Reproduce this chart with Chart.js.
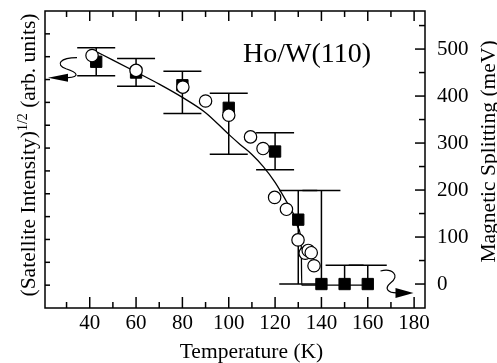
<!DOCTYPE html>
<html>
<head>
<meta charset="utf-8">
<script src="https://cdn.jsdelivr.net/npm/chart.js@4.4.0/dist/chart.umd.min.js"></script>
<style>
  html, body { margin: 0; padding: 0; background: #fff; }
  canvas { display: block; }
</style>
</head>
<body>
<canvas id="chart" width="497" height="363"></canvas>
<script>
  // magnetic splitting (filled squares, right axis)
  const temps = [42.8, 60, 80, 100, 120, 130, 140, 150, 160];
  const splitting = [473, 450, 423, 375, 282, 137, 0, 0, 0];
  const splitHigh = [503, 480, 453, 406, 322, 199, 199, 40, 40];
  const splitLow = [443, 421, 363, 276, 243, 0, 0, 0, 0];

  // satellite intensity (open circles, left axis)
  const circT = [41, 60, 80.2, 90, 100, 109.4, 114.8, 119.8, 124.9, 129.9, 133.0, 134.3, 135.6, 136.8];
  const circI = [10.05, 9.40, 8.67, 8.06, 7.44, 6.49, 5.98, 3.84, 3.32, 1.98, 1.40, 1.52, 1.42, 0.85];

  // fitted curve
  const fitT = [43.2, 50, 60, 70, 80, 90, 100, 105, 110, 115, 120, 125, 128, 130, 131.3, 131.5, 160];
  const fitI = [10.2, 9.85, 9.33, 8.8, 8.22, 7.55, 6.6, 6.15, 5.72, 5.18, 4.5, 3.65, 3.1, 2.5, 1.7, 0, 0];

  // ticks
  const xMajor = [40, 60, 80, 100, 120, 140, 160, 180];
  const xMinor = [30, 50, 70, 90, 110, 130, 150, 170];
  const rightMajor = [0, 100, 200, 300, 400, 500];
  const rightMinor = [50, 150, 250, 350, 450, 550];
  const leftTicks = [0, 1, 2, 3, 4, 5, 6, 7, 8, 9, 10, 11];

  const serif = '"Liberation Serif", "Times New Roman", serif';

  function line(ctx, x1, y1, x2, y2) {
    ctx.beginPath();
    ctx.moveTo(x1, y1);
    ctx.lineTo(x2, y2);
    ctx.stroke();
  }

  function noPad(s) {
    s.paddingTop = 0;
    s.paddingBottom = 0;
    s.paddingLeft = 0;
    s.paddingRight = 0;
  }

  const decor = {
    id: 'decor',
    beforeDatasetsDraw(chart) {
      const ctx = chart.ctx;
      const x = chart.scales.x, yR = chart.scales.yR;
      ctx.save();
      ctx.strokeStyle = '#000';
      ctx.lineWidth = 1.5;
      temps.forEach((t, i) => {
        const px = x.getPixelForValue(t);
        const hi = yR.getPixelForValue(splitHigh[i]);
        const lo = yR.getPixelForValue(splitLow[i]);
        line(ctx, px, hi, px, lo);
        if (splitHigh[i] !== splitting[i]) line(ctx, px - 19, hi, px + 19, hi);
        if (splitLow[i] !== splitting[i]) line(ctx, px - 19, lo, px + 19, lo);
      });
      ctx.restore();
    },
    afterDraw(chart) {
      const ctx = chart.ctx;
      const a = chart.chartArea;
      const x = chart.scales.x, yL = chart.scales.yL, yR = chart.scales.yR;
      ctx.save();
      ctx.strokeStyle = '#000';
      ctx.fillStyle = '#000';
      ctx.lineWidth = 1.5;
      ctx.strokeRect(a.left, a.top, a.right - a.left, a.bottom - a.top);

      xMajor.forEach(v => {
        const px = x.getPixelForValue(v);
        line(ctx, px, a.bottom, px, a.bottom - 11);
        line(ctx, px, a.top, px, a.top + 10);
      });
      xMinor.forEach(v => {
        const px = x.getPixelForValue(v);
        line(ctx, px, a.bottom, px, a.bottom - 6);
        line(ctx, px, a.top, px, a.top + 6);
      });
      leftTicks.forEach(v => {
        const py = yL.getPixelForValue(v);
        line(ctx, a.left, py, a.left + 5, py);
      });
      rightMajor.forEach(v => {
        const py = yR.getPixelForValue(v);
        line(ctx, a.right, py, a.right - 10, py);
      });
      rightMinor.forEach(v => {
        const py = yR.getPixelForValue(v);
        line(ctx, a.right, py, a.right - 6, py);
      });

      // titles
      ctx.font = '21.5px ' + serif;
      ctx.textAlign = 'center';
      ctx.textBaseline = 'alphabetic';
      ctx.fillText('Temperature (K)', (a.left + a.right) / 2 + 16.5, 358);

      // left title with superscript
      const p1 = '(Satellite Intensity)', sup = '1/2', p2 = ' (arb. units)';
      ctx.save();
      ctx.translate(35, 155);
      ctx.rotate(-Math.PI / 2);
      ctx.textAlign = 'left';
      ctx.font = '21.5px ' + serif;
      const w1 = ctx.measureText(p1).width, w3 = ctx.measureText(p2).width;
      ctx.font = '14px ' + serif;
      const w2 = ctx.measureText(sup).width;
      let u = -(w1 + w2 + w3) / 2;
      ctx.font = '21.5px ' + serif;
      ctx.fillText(p1, u, 0);
      u += w1;
      ctx.font = '14px ' + serif;
      ctx.fillText(sup, u, -8);
      u += w2;
      ctx.font = '21.5px ' + serif;
      ctx.fillText(p2, u, 0);
      ctx.restore();

      ctx.save();
      ctx.translate(495, 151.5);
      ctx.rotate(-Math.PI / 2);
      ctx.textAlign = 'center';
      ctx.font = '21.5px ' + serif;
      ctx.fillText('Magnetic Splitting (meV)', 0, 0);
      ctx.restore();

      ctx.font = '28px ' + serif;
      ctx.textAlign = 'left';
      ctx.fillText('Ho/W(110)', 243, 62);

      // arrow to the left axis
      ctx.lineWidth = 1.2;
      const ly = yL.getPixelForValue(9.08);
      const lx = a.left + 3;
      ctx.beginPath();
      ctx.moveTo(lx + 29, ly - 20);
      ctx.bezierCurveTo(lx + 12, ly - 20, lx + 7, ly - 13, lx + 18, ly - 9);
      ctx.bezierCurveTo(lx + 30, ly - 5, lx + 32, ly - 1, lx + 20, ly);
      ctx.stroke();
      ctx.beginPath();
      ctx.moveTo(lx, ly);
      ctx.lineTo(lx + 20, ly - 4);
      ctx.lineTo(lx + 20, ly + 4);
      ctx.closePath();
      ctx.fill();

      // arrow to the right axis
      const ry = yR.getPixelForValue(-19);
      const rx = a.right - 11.5;
      ctx.beginPath();
      ctx.moveTo(rx - 33, ry - 22);
      ctx.bezierCurveTo(rx - 21, ry - 25, rx - 13, ry - 17, rx - 23, ry - 10);
      ctx.bezierCurveTo(rx - 30, ry - 4, rx - 25, ry, rx - 17, ry);
      ctx.stroke();
      ctx.beginPath();
      ctx.moveTo(rx, ry);
      ctx.lineTo(rx - 18, ry - 5);
      ctx.lineTo(rx - 18, ry + 5);
      ctx.closePath();
      ctx.fill();
      ctx.restore();
    }
  };

  new Chart(document.getElementById('chart'), {
    type: 'scatter',
    data: {
      datasets: [{
        label: 'Satellite intensity',
        data: circT.map((t, i) => ({ x: t, y: circI[i] })),
        yAxisID: 'yL',
        pointStyle: 'circle',
        pointRadius: 6.2,
        pointBackgroundColor: '#fff',
        pointBorderColor: '#000',
        pointBorderWidth: 1.2,
        order: 0
      }, {
        label: 'Magnetic splitting',
        data: temps.map((t, i) => ({ x: t, y: splitting[i] })),
        yAxisID: 'yR',
        pointStyle: 'rect',
        pointRadius: 8,
        pointBackgroundColor: '#000',
        pointBorderColor: '#000',
        pointBorderWidth: 1,
        order: 1
      }, {
        label: 'Fit',
        data: fitT.map((t, i) => ({ x: t, y: fitI[i] })),
        yAxisID: 'yL',
        showLine: true,
        fill: false,
        pointRadius: 0,
        borderColor: '#000',
        borderWidth: 1.3,
        cubicInterpolationMode: 'monotone',
        order: 2
      }]
    },
    options: {
      responsive: false,
      animation: false,
      devicePixelRatio: 1,
      layout: { padding: { top: 11, left: 0, right: 0, bottom: 0 } },
      plugins: { legend: { display: false }, tooltip: { enabled: false } },
      scales: {
        x: {
          type: 'linear',
          position: 'bottom',
          min: 20.7,
          max: 184.7,
          afterBuildTicks: s => { s.ticks = xMajor.map(v => ({ value: v })); },
          ticks: { font: { family: serif, size: 21 }, color: '#000', padding: 3, maxRotation: 0, autoSkip: false },
          grid: { display: false, drawTicks: false },
          border: { display: false },
          afterFit: s => { s.height = 55; noPad(s); }
        },
        yL: {
          type: 'linear',
          position: 'left',
          min: -1,
          max: 12,
          ticks: { display: false },
          grid: { display: false, drawTicks: false },
          border: { display: false },
          afterFit: s => { s.width = 45; noPad(s); }
        },
        yR: {
          type: 'linear',
          position: 'right',
          min: -51,
          max: 581,
          afterBuildTicks: s => { s.ticks = rightMajor.map(v => ({ value: v })); },
          ticks: { font: { family: serif, size: 21 }, color: '#000', padding: 12, autoSkip: false },
          grid: { display: false, drawTicks: false },
          border: { display: false },
          afterFit: s => { s.width = 72; noPad(s); }
        }
      }
    },
    plugins: [decor]
  });
</script>
</body>
</html>
